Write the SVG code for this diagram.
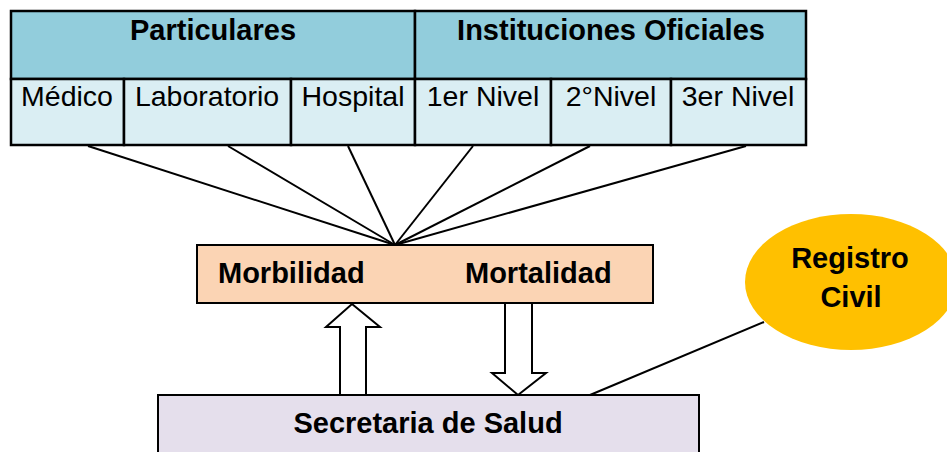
<svg xmlns="http://www.w3.org/2000/svg" width="947" height="452" viewBox="0 0 947 452">
<defs>
<style>
.hdr{fill:#92CDDC;stroke:#000;stroke-width:2.5}
.sub{fill:#DAEEF3;stroke:#000;stroke-width:2.5}
.t{font-family:"Liberation Sans",Arial,sans-serif;font-size:28.5px;fill:#000;text-anchor:middle}
.b{font-weight:bold;font-size:29px}
.conn{stroke:#000;stroke-width:2;fill:none}
.arrow{fill:#fff;stroke:#000;stroke-width:2;stroke-linejoin:miter}
</style>
</defs>
<rect width="947" height="452" fill="#fff"/>
<g id="table">
<g id="particulares">
<rect class="hdr" x="11" y="11" width="404" height="68"/>
<text class="t b" x="213" y="40">Particulares</text>
</g>
<g id="instituciones">
<rect class="hdr" x="415" y="11" width="391" height="68"/>
<text class="t b" x="611" y="40">Instituciones Oficiales</text>
</g>
<g id="medico">
<rect class="sub" x="11" y="79" width="113" height="66"/>
<text class="t" x="67" y="106">Médico</text>
</g>
<g id="laboratorio">
<rect class="sub" x="124" y="79" width="167" height="66"/>
<text class="t" x="207" y="106">Laboratorio</text>
</g>
<g id="hospital">
<rect class="sub" x="291" y="79" width="124" height="66"/>
<text class="t" x="353" y="106">Hospital</text>
</g>
<g id="nivel1">
<rect class="sub" x="415" y="79" width="136" height="66"/>
<text class="t" x="483" y="106">1er Nivel</text>
</g>
<g id="nivel2">
<rect class="sub" x="551" y="79" width="120" height="66"/>
<text class="t" x="611" y="106">2°Nivel</text>
</g>
<g id="nivel3">
<rect class="sub" x="671" y="79" width="135" height="66"/>
<text class="t" x="738" y="106">3er Nivel</text>
</g>
</g>
<g id="connectors">
<line class="conn" x1="88" y1="146" x2="395" y2="245"/>
<line class="conn" x1="228" y1="146" x2="395" y2="245"/>
<line class="conn" x1="348" y1="146" x2="395" y2="245"/>
<line class="conn" x1="473" y1="146" x2="395" y2="245"/>
<line class="conn" x1="590" y1="146" x2="395" y2="245"/>
<line class="conn" x1="746" y1="146" x2="395" y2="245"/>
<line class="conn" x1="590" y1="395" x2="764" y2="322"/>
<polygon class="arrow" points="352,304 380,327 366,327 366,395 340,395 340,327 326,327"/>
<polygon class="arrow" points="505,303 532,303 532,373 546,373 518,395 492,373 505,373"/>
</g>
<g id="morbimortalidad">
<rect x="197" y="245" width="456" height="58" fill="#FBD4B4" stroke="#000" stroke-width="2"/>
<text class="t b" x="218" y="283" style="text-anchor:start">Morbilidad</text>
<text class="t b" x="465" y="283" style="text-anchor:start">Mortalidad</text>
</g>
<g id="secretaria">
<rect x="158" y="395" width="541" height="70" fill="#E5DFEC" stroke="#000" stroke-width="2"/>
<text class="t b" x="428" y="433">Secretaria de Salud</text>
</g>
<g id="registro">
<ellipse cx="851" cy="282" rx="106" ry="68" fill="#FFC000"/>
<text class="t b" x="850" y="268">Registro</text>
<text class="t b" x="851" y="307">Civil</text>
</g>
</svg>
